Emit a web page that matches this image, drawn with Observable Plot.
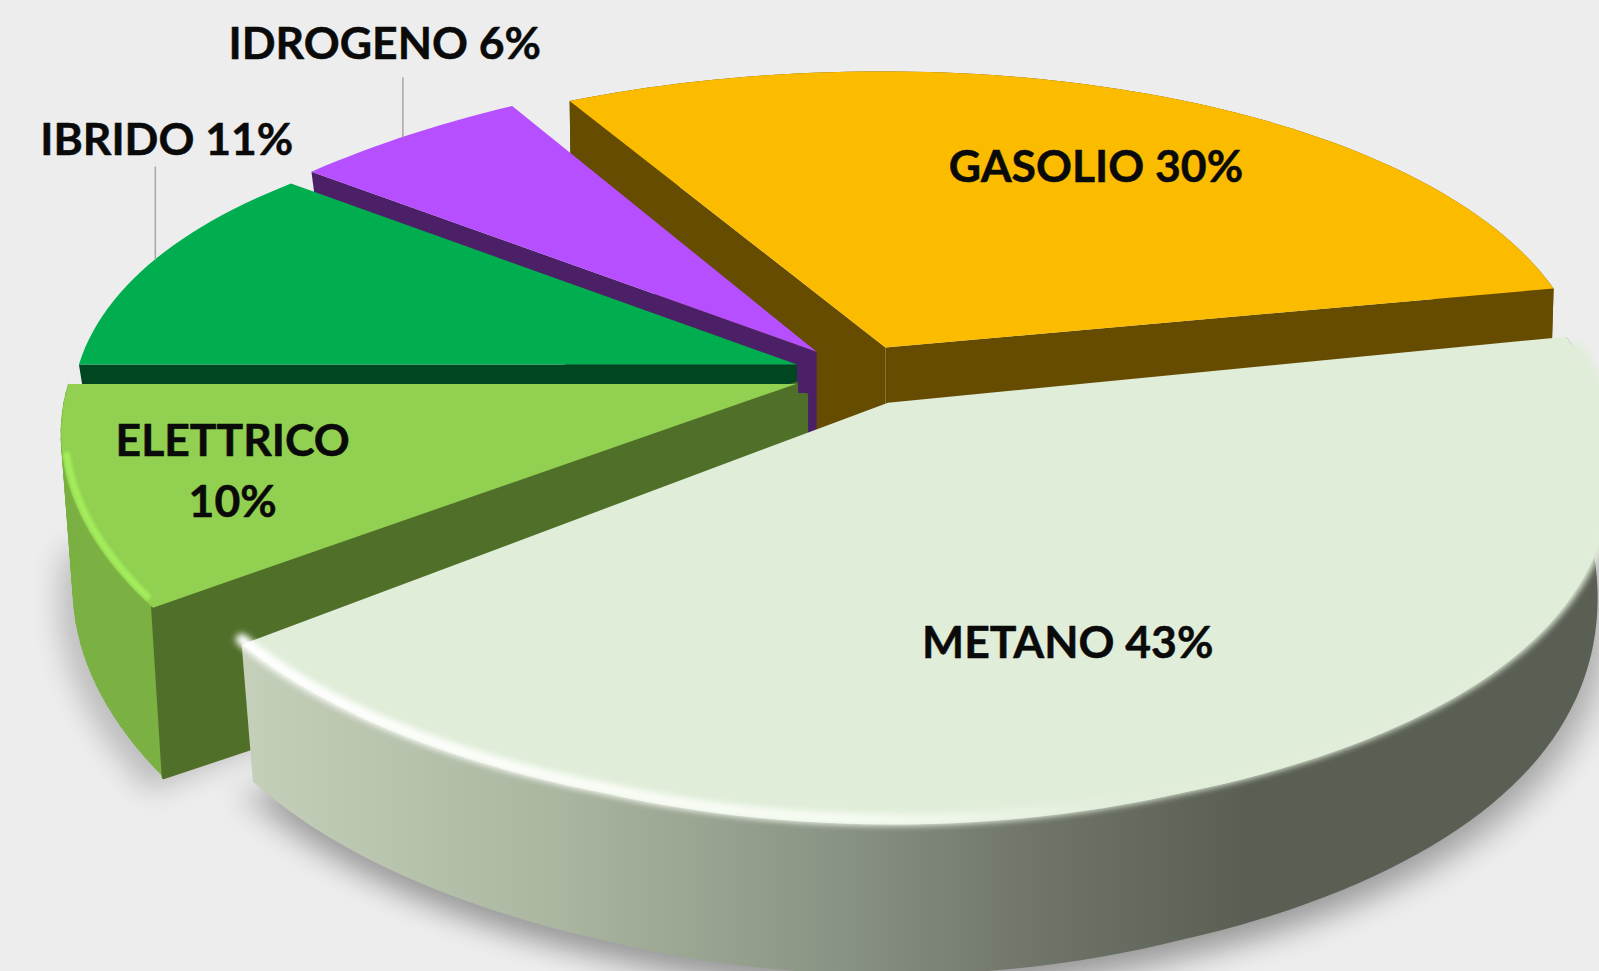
<!DOCTYPE html>
<html><head><meta charset="utf-8">
<style>html,body{margin:0;padding:0;background:#ededed;overflow:hidden}svg{display:block}</style>
<script src="https://cdn.jsdelivr.net/npm/d3@7"></script>
<script src="https://cdn.jsdelivr.net/npm/@observablehq/plot@0.6"></script>
</head><body><div id="chart"></div>
<script>
const categories = ["GASOLIO","METANO","ELETTRICO","IBRIDO","IDROGENO"];
const values = [30,43,10,11,6];
const separators = [" "," ","\n"," "," "];
const topColors = ["#FBBC00","#E0EDD9","#91D050","#00AE50","#B54FFF"];
const wallColors = ["#664C00","#E0EDD9","#50702A","#004620","#4B2067"];
const rimColors = ["#664C00","url(#metanoRim)","#7BB042","#004620","#4B2067"];
const explodeX = [0.030,0.033,-0.094,-0.094,-0.067];
const explodeY = [-0.094,0.060,0.016,-0.042,-0.081];
const thickness = [122,120,150,122,122];
const frontBulge = [0,20,0,0,0];
const backBulge = [0,0,0,9,7];
const leftReach = [735,735,726,722,722];
const rightReach = [695,692,700,700,700];
const insets = [0.995,0.982,0.985,0.975,0.975];
const labelAngles = [26.1,158.5,255.1,307.8,328];
const labelRadii = [0.811,0.695,0.879,1.355,1.455];
const leaderAngles = [null,null,null,290.3,320];
const leaderLengths = [0,0,0,92,59];
const paintOrder = [0,4,3,2,1];

// projection of the pie plane
const cx=864, cy=378, B=336, kFront=0.19, kBack=0.18, kx=0.13, kxRight=0.16, startDeg=331.2;
const rad=d=>d*Math.PI/180;
function proj(X,Y,o={}){
  const {z=0,h=122,front=14,back=0,left=722,right=700,inset=0.975}=o;
  const A=X<0?left:right;
  const den=X>0?(Y>-0.12?1-kxRight*(Y+0.12):1-kx*(Y+0.12)):1-kx*Y;
  let x=cx+A*X/den;
  const w=1-(Y>0?kFront:kBack)*Y;
  let y=cy+B*Y/w;
  if(Y>0&&Y<1) y+=front*Math.sin(Math.PI*Y);
  const ay=-Y;
  if(ay>0&&ay<=0.7) y+=back*(ay/0.7)*(ay/0.7);
  else if(ay>0.7&&ay<1) y+=back*(1-((ay-0.7)/0.3)*((ay-0.7)/0.3));
  if(z){ x=cx+(x-cx)*inset; y+=h/w; }
  return {x,y};
}
const cum=[0,...d3.cumsum(values)];
const total=d3.sum(values);
const slices=values.map((v,i)=>({
  i,a0:startDeg+cum[i]/total*360,a1:startDeg+cum[i+1]/total*360,ox:explodeX[i],oy:explodeY[i],
  o:{h:thickness[i],front:frontBulge[i],back:backBulge[i],left:leftReach[i],right:rightReach[i],inset:insets[i]}
}));
const onArc=(s,a,z=0)=>proj(s.ox+Math.sin(rad(a)),s.oy-Math.cos(rad(a)),{...s.o,z});
const apex=s=>proj(s.ox,s.oy,s.o);
const arc=(s,z=0)=>{const n=Math.ceil((s.a1-s.a0)/1.5);return d3.range(n+1).map(j=>onArc(s,s.a0+(s.a1-s.a0)*j/n,z));};
const shift=(p,dx,dy)=>({x:p.x+dx,y:p.y+dy});
const poly=(pts,fill,opts={})=>Plot.line([...pts,pts[0]],{x:"x",y:"y",fill,stroke:"none",...opts});
const edge=(pts,stroke,w,opts={})=>Plot.line(pts,{x:"x",y:"y",stroke,strokeWidth:w,fill:"none",...opts});

const defs=()=>{
  const d=d3.create("svg:g"); const df=d.append("defs");
  const g=df.append("linearGradient").attr("id","metanoRim").attr("gradientUnits","userSpaceOnUse")
    .attr("x1",240).attr("x2",1300).attr("y1",0).attr("y2",0);
  [[0,"#c5d0bb"],[.3,"#aab6a0"],[.55,"#8b9585"],[.75,"#6f7568"],[.95,"#5a5f53"],[1,"#5a5f53"]]
    .forEach(([o,c])=>g.append("stop").attr("offset",o).attr("stop-color",c));
  const h=df.append("linearGradient").attr("id","metanoHi").attr("gradientUnits","userSpaceOnUse")
    .attr("x1",240).attr("x2",1599).attr("y1",0).attr("y2",0);
  [[0,"#ffffff"],[.45,"#f6fbf1"],[.65,"#E0EDD9"],[1,"#E0EDD9"]]
    .forEach(([o,c])=>h.append("stop").attr("offset",o).attr("stop-color",c));
  return d.node();
};

const marks=[defs];
// ground shadow
[[slices[2],-14,14],[slices[1],-14,14],[slices[1],16,18]].forEach(([s,dx,dy])=>{
  const low=arc(s,1).map(p=>shift(p,dx,dy));
  marks.push(poly([...low,shift(apex(s),0,s.o.h)],"#000",{fillOpacity:0.2,imageFilter:"blur(14px)"}));
});
paintOrder.forEach(i=>{
  const s=slices[i], a=arc(s,0), b=arc(s,1), ap=apex(s);
  if(i===2){
    // swept rim, so its left side stays tangent to the top and bottom arcs
    d3.range(a.length-1).forEach(j=>marks.push(poly([a[j],a[j+1],b[j+1],b[j]],rimColors[i],{stroke:rimColors[i],strokeWidth:1})));
  } else if(i===0||i===1){
    marks.push(poly([...a,...b.slice().reverse()],rimColors[i]));
  }
  // radial walls run deep at the hub: the slices painted later mask them
  let hub=[ap,shift(ap,0,80)];
  if(i===0) hub=[ap,shift(ap,0,120),shift(ap,-69,120)];
  if(i===2) hub=[ap,shift(ap,0,11),shift(ap,10,11),shift(ap,10,180)];
  if(i===3) hub=[ap,shift(ap,0,22)];
  if(i===4) hub=[ap,shift(ap,0,95),shift(ap,-10,98)];
  const wallOpts=i===2?{stroke:wallColors[2],strokeWidth:4}:{};
  if(i!==1) marks.push(poly([a[0],...hub,b[0]],wallColors[i],wallOpts));
  if(i===0) marks.push(poly([a[a.length-1],...hub,b[b.length-1]],wallColors[i]));
  marks.push(poly([ap,...a],topColors[i]));
  if(i===1) marks.push(edge(a.slice(2).map(p=>shift(p,0,-5)),"url(#metanoHi)",12,{imageFilter:"blur(3px)"}));
  if(i===2) marks.push(edge(a.slice(1,-8).map(p=>shift(p,4,-2)),"#A3EC5B",7,{imageFilter:"blur(1.5px)"}));
});
// leaders
[3,4].forEach(i=>{
  const p=onArc(slices[i],leaderAngles[i]);
  marks.push(edge([p,shift(p,0,-leaderLengths[i])],"#a6a6a6",1.5));
});
const labels=categories.map((c,i)=>{
  const a=rad(labelAngles[i]), r=labelRadii[i];
  return {...proj(r*Math.sin(a),-r*Math.cos(a)),t:`${c}${separators[i]}${values[i]}%`};
});
marks.push(Plot.text(labels,{x:"x",y:"y",text:"t",fontFamily:"Lato",fontWeight:700,fontSize:44.5,lineHeight:1.38,fill:"#0a0a0a",stroke:"#0a0a0a",strokeWidth:0.5}));

document.getElementById("chart").append(Plot.plot({
  width:1599,height:971,margin:0,
  x:{domain:[0,1599],range:[0,1599],axis:null},
  y:{domain:[0,971],range:[0,971],axis:null},
  style:{background:"#ededed"},
  marks
}));
</script></body></html>
